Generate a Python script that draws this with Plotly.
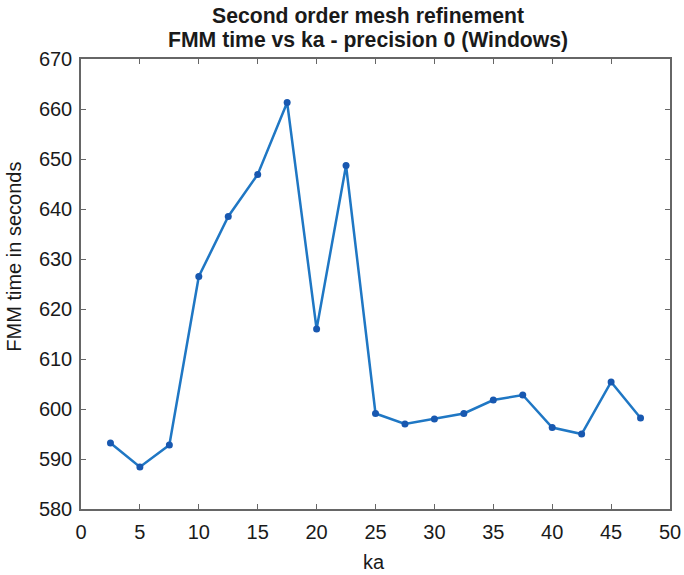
import plotly.graph_objects as go

ka = [2.5, 5, 7.5, 10, 12.5, 15, 17.5, 20, 22.5, 25, 27.5, 30, 32.5, 35, 37.5, 40, 42.5, 45, 47.5]
fmm_time = [593.2, 588.4, 592.8, 626.5, 638.5, 646.9, 661.3, 616.0, 648.7, 599.1, 597.0, 598.0, 599.1, 601.8, 602.8, 596.3, 595.0, 605.4, 598.2]

title_lines = ["Second order mesh refinement", "FMM time vs ka - precision 0 (Windows)"]
x_label = "ka"
y_label = "FMM time in seconds"
x_ticks = [0, 5, 10, 15, 20, 25, 30, 35, 40, 45, 50]
y_ticks = [580, 590, 600, 610, 620, 630, 640, 650, 660, 670]

font_family = "Liberation Sans, Arial, sans-serif"
text_color = "#1a1a1a"

fig = go.Figure()
fig.add_trace(go.Scatter(
    x=ka, y=fmm_time, mode="lines+markers",
    line=dict(color="#1f77c4", width=2.5),
    marker=dict(color="#1858b0", size=7),
    showlegend=False,
))

axis_common = dict(
    showgrid=False, zeroline=False, showline=True, mirror="ticks",
    linecolor="#666666", linewidth=1.5, ticks="inside", ticklen=5,
    tickcolor="#666666", tickwidth=1, automargin=False,
    tickfont=dict(family=font_family, size=20, color=text_color),
)

annotations = [
    dict(text="<b>" + title_lines[0] + "</b>", x=0.4868, y=1.0962, xref="paper", yref="paper",
         xanchor="center", yanchor="middle", showarrow=False,
         font=dict(family=font_family, size=21.2, color=text_color)),
    dict(text="<b>" + title_lines[1] + "</b>", x=0.4868, y=1.0418, xref="paper", yref="paper",
         xanchor="center", yanchor="middle", showarrow=False,
         font=dict(family=font_family, size=21.2, color=text_color)),
    dict(text=x_label, x=0.4979, y=-0.1188, xref="paper", yref="paper",
         xanchor="center", yanchor="middle", showarrow=False,
         font=dict(family=font_family, size=20, color=text_color)),
    dict(text=y_label, x=-0.1128, y=0.5598, xref="paper", yref="paper", textangle=-90,
         xanchor="center", yanchor="middle", showarrow=False,
         font=dict(family=font_family, size=20, color=text_color)),
]

fig.update_layout(
    width=684, height=575,
    margin=dict(l=81, r=13.5, t=59.3, b=65.5, autoexpand=False),
    paper_bgcolor="white", plot_bgcolor="white",
    xaxis=dict(range=[0, 50], tickvals=x_ticks, ticklabelstandoff=4, **axis_common),
    yaxis=dict(range=[580, 670], tickvals=y_ticks, ticklabelstandoff=3, **axis_common),
    annotations=annotations,
)
# remove the browser's default 8px body margin so the figure fills the window
fig.write_html("out.html", config={"displayModeBar": False},
               post_script="document.body.style.margin='0';")
